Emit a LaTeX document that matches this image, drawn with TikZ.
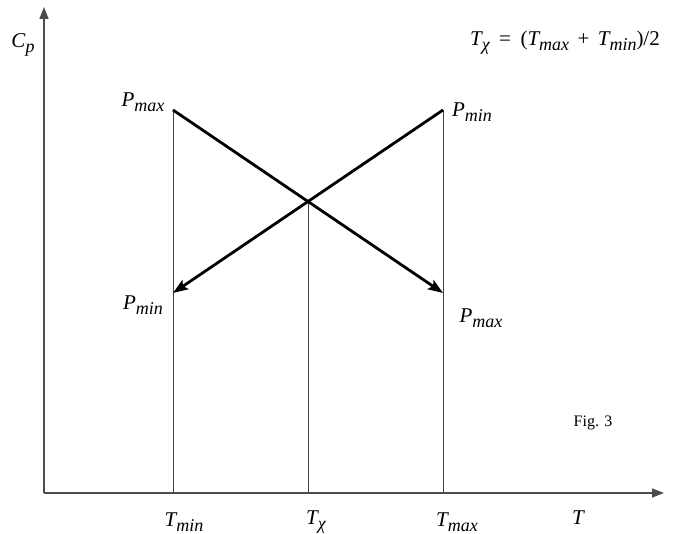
\documentclass[tikz,border=0pt]{standalone}
\usepackage{fontspec}
\setmainfont{Liberation Serif}
\usetikzlibrary{arrows.meta}
\newcommand\lo[1]{\raisebox{-0.5ex}{\fontsize{18}{18}\selectfont #1}}
\begin{document}
\begin{tikzpicture}[x=1pt,y=-1pt,
  lbl/.style={font=\fontsize{21}{24}\selectfont\itshape, inner sep=0pt},
  axis/.style={draw=black!70, line width=1.5pt, -{Triangle[length=12pt,width=9pt]}},
  guide/.style={draw=black!75, line width=0.8pt},
  heavy/.style={draw=black, line width=2.8pt, -{Stealth[length=15pt,width=11pt,inset=3pt]}}]
\useasboundingbox (0,0) rectangle (674,534);
\coordinate (O) at (44,493);
\coordinate (Ytop) at (44,7);
\coordinate (Xend) at (664,493);
\coordinate (A) at (173,110);
\coordinate (B) at (443,110);
\coordinate (C) at (173,293);
\coordinate (D) at (443,293);
\coordinate (X) at (308,201.5);
\coordinate (A0) at (173,493);
\coordinate (B0) at (443,493);
\coordinate (X0) at (308,493);
\draw[guide] (A) -- (A0);
\draw[guide] (B) -- (B0);
\draw[guide] (X) -- (X0);
\draw[axis] (O) -- (Ytop);
\draw[axis] (O) -- (Xend);
\draw[heavy] (A) -- (D);
\draw[heavy] (B) -- (C);
\node[lbl] (cp) at (23,45) {C\lo{p}};
\node[lbl] (pmax1) at (143,102) {P\lo{max}};
\node[lbl] (pmin1) at (472,112) {P\lo{min}};
\node[lbl] (pmin2) at (143,305) {P\lo{min}};
\node[lbl] (pmax2) at (481,318) {P\lo{max}};
\node[lbl] (tmin) at (184,522) {T\lo{min}};
\node[lbl] (tchi) at (316,522) {T\lo{χ}};
\node[lbl] (tmax) at (457,522) {T\lo{max}};
\node[lbl] (t) at (578,518) {T};
\node[lbl] (formula) at (565,43) {T\lo{χ}\hspace{0.45em}\upshape=\hspace{0.45em}(\itshape T\lo{max}\hspace{0.4em}\upshape+\hspace{0.4em}\itshape T\lo{min}\upshape)/2};
\node[inner sep=0pt, font=\fontsize{16}{18}\selectfont] (fig) at (593,423) {Fig. 3};
\end{tikzpicture}
\end{document}
